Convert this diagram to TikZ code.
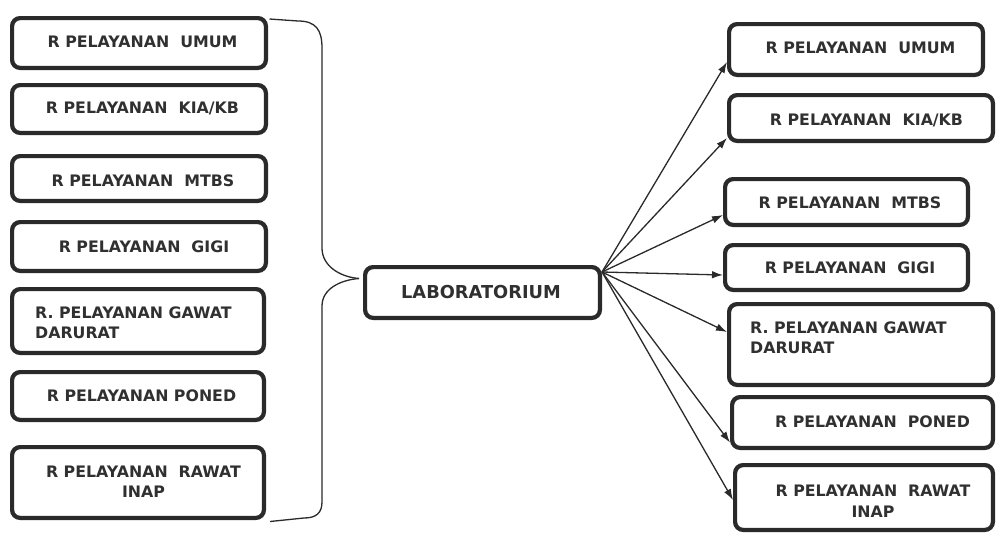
\documentclass[tikz,border=0pt]{standalone}
\usepackage{fontspec}
\setmainfont{DejaVu Sans}
\usetikzlibrary{arrows.meta,calc}
\definecolor{ink}{HTML}{2A2A2A}
\definecolor{txtc}{HTML}{303030}
\begin{document}
\begin{tikzpicture}[x=1pt,y=-1pt,
 box/.style={draw=ink, line width=4.2pt, rounded corners=8pt, fill=white, inner sep=0pt},
 txt/.style={text=txtc, font=\bfseries\fontsize{15.8}{20}\selectfont, inner sep=0pt, align=center},
 conn/.style={draw=ink, line width=1.3pt},
 arr/.style={conn, -{Latex[length=11pt,width=7.5pt]}}]
\useasboundingbox (0,0) rectangle (997,536);
\fill[white] (0,0) rectangle (997,536);

% left boxes
\node[box, minimum width=253.8pt, minimum height=49.8pt] (l1) at (139,43) {};
\node[box, minimum width=253.8pt, minimum height=47.8pt] (l2) at (139,109) {};
\node[box, minimum width=253.8pt, minimum height=44.8pt] (l3) at (139,178.5) {};
\node[box, minimum width=253.8pt, minimum height=48.8pt] (l4) at (139,246.5) {};
\node[box, minimum width=251.8pt, minimum height=63.8pt] (l5) at (138,321) {};
\node[box, minimum width=251.8pt, minimum height=47.8pt] (l6) at (138,396) {};
\node[box, minimum width=251.8pt, minimum height=70.8pt] (l7) at (138,482.5) {};

\node[txt] (tl1) at (142.5,42) {R PELAYANAN\ \ UMUM};
\node[txt] (tl2) at (142.5,108) {R PELAYANAN\ \ KIA/KB};
\node[txt] (tl3) at (143,181) {R PELAYANAN\ \ MTBS};
\node[txt] (tl4) at (144,247) {R PELAYANAN\ \ GIGI};
\node[txt, align=left, anchor=west] (tl5) at (35,323) {R. PELAYANAN GAWAT\\DARURAT};
\node[txt] (tl6) at (141.5,396) {R PELAYANAN PONED};
\node[txt] (tl7) at (143.5,482) {R PELAYANAN\ \ RAWAT\\INAP};

% center
\node[box, minimum width=234.8pt, minimum height=50.8pt] (lab) at (482.5,292.5) {};
\node[txt, font=\bfseries\fontsize{17.8}{20}\selectfont] (tlab) at (481,292) {LABORATORIUM};

% right boxes
\node[box, minimum width=253.8pt, minimum height=50.8pt] (r1) at (856,49.5) {};
\node[box, minimum width=263.8pt, minimum height=45.8pt] (r2) at (861,118) {};
\node[box, minimum width=242.8pt, minimum height=45.8pt] (r3) at (846.5,202) {};
\node[box, minimum width=242.8pt, minimum height=44.8pt] (r4) at (846.5,267.5) {};
\node[box, minimum width=263.8pt, minimum height=80.8pt] (r5) at (861,344.5) {};
\node[box, minimum width=260.8pt, minimum height=50.8pt] (r6) at (862.5,422.5) {};
\node[box, minimum width=257.8pt, minimum height=64.8pt] (r7) at (864,497.5) {};

\node[txt] (tr1) at (860.5,48) {R PELAYANAN\ \ UMUM};
\node[txt] (tr2) at (866.5,120) {R PELAYANAN\ \ KIA/KB};
\node[txt] (tr3) at (850,203) {R PELAYANAN\ \ MTBS};
\node[txt] (tr4) at (850,268) {R PELAYANAN\ \ GIGI};
\node[txt, align=left, anchor=west] (tr5) at (750,338) {R. PELAYANAN GAWAT\\DARURAT};
\node[txt] (tr6) at (872.5,422) {R PELAYANAN\ \ PONED};
\node[txt, font=\bfseries\fontsize{15.8}{21.5}\selectfont] (tr7) at (873,501) {R PELAYANAN\ \ RAWAT\\INAP};

% brace on the left
\coordinate (meet) at ($(lab.west)+(-4,-14)$);
\draw[conn] ($(l1.north east)+(1.5,3)$) -- (298,21) .. controls (316,21) and (322,30) .. (322,48)
  -- (322,248) .. controls (322,266) and (340,277) .. (meet);
\draw[conn] (meet) .. controls (340,280) and (322,289) .. (322,306)
  -- (322,502) .. controls (322,513) and (316,518) .. (304,518) -- ($(l7.south east)+(4,1.5)$);

% arrows
\coordinate (src) at ($(lab.north east)+(0,7)$);
\draw[arr] (src) -- ($(r1.west)+(0,12.5)$);
\draw[arr] (src) -- ($(r2.west)+(0,20)$);
\draw[arr] (src) -- ($(r3.west)+(0,13)$);
\draw[arr] (src) -- ($(r4.west)+(0,7.5)$);
\draw[arr] (src) -- ($(r5.west)+(0,-12.5)$);
\draw[arr] (src) -- ($(r6.west)+(0,20)$);
\draw[arr] (src) -- ($(r7.west)+(0,2.5)$);
\end{tikzpicture}
\end{document}
